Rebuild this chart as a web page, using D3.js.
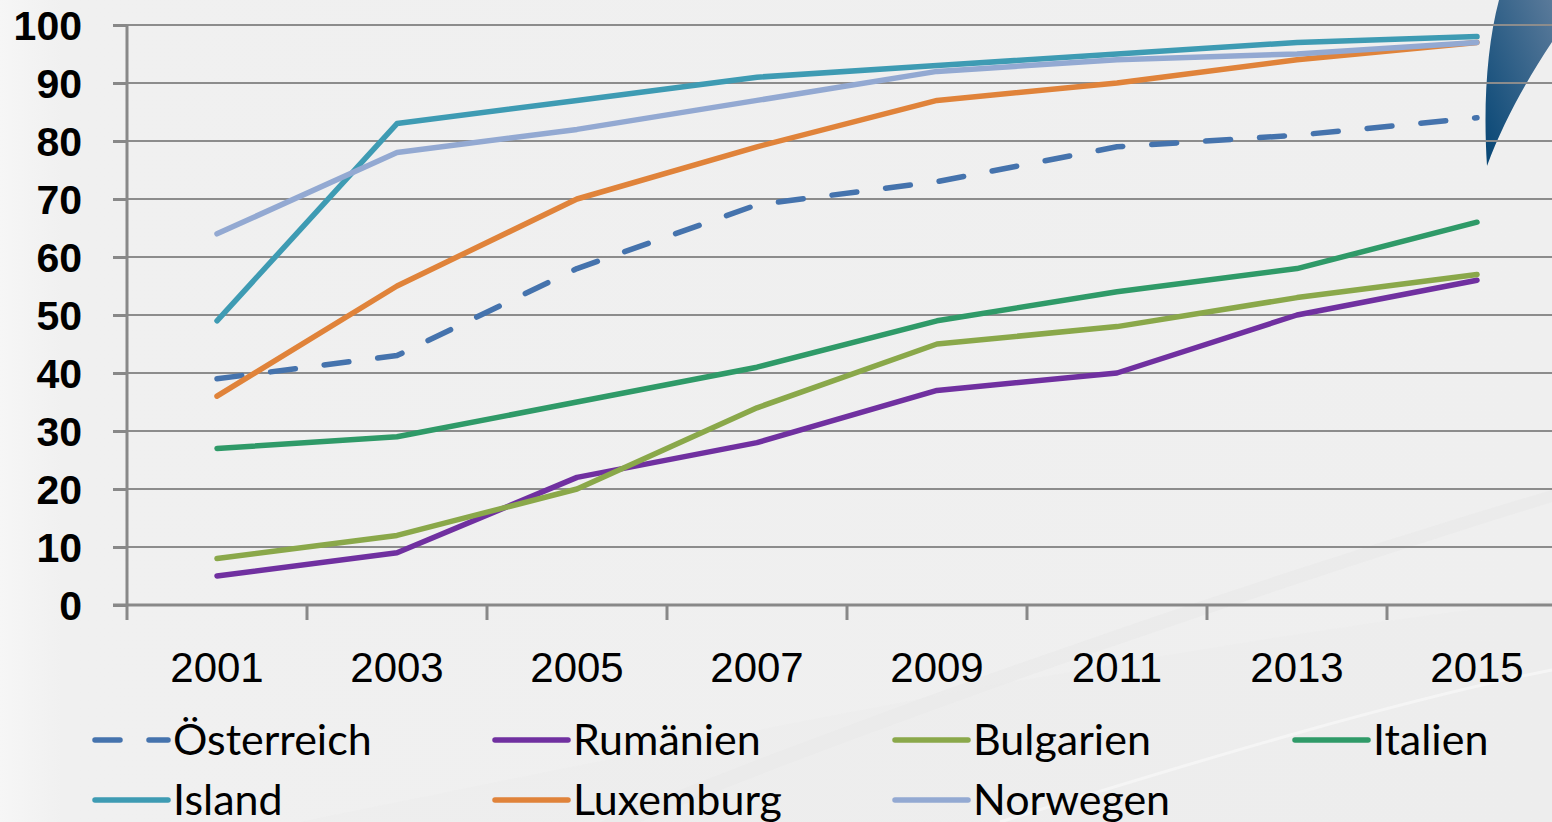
<!DOCTYPE html>
<html>
<head>
<meta charset="utf-8">
<script src="https://cdn.jsdelivr.net/npm/d3@7"></script>
<style>
  html, body { margin: 0; padding: 0; background: #f0f0f0; overflow: hidden; }
  svg { display: block; font-family: Lato, "Open Sans", sans-serif; }
</style>
</head>
<body>
<svg id="chart"></svg>
<script>
// chart data
var years = ["2001", "2003", "2005", "2007", "2009", "2011", "2013", "2015"];
var yTicks = [0, 10, 20, 30, 40, 50, 60, 70, 80, 90, 100];

var oesterreich = [39, 43, 58, 69, 73, 79, 81, 84];
var rumaenien   = [5, 9, 22, 28, 37, 40, 50, 56];
var bulgarien   = [8, 12, 20, 34, 45, 48, 53, 57];
var italien     = [27, 29, 35, 41, 49, 54, 58, 66];
var island      = [49, 83, 87, 91, 93, 95, 97, 98];
var luxemburg   = [36, 55, 70, 79, 87, 90, 94, 97];
var norwegen    = [64, 78, 82, 87, 92, 94, 95, 97];

var seriesNames = ["Österreich", "Rumänien", "Bulgarien", "Italien", "Island", "Luxemburg", "Norwegen"];
var seriesValues = [oesterreich, rumaenien, bulgarien, italien, island, luxemburg, norwegen];
var seriesColors = ["#4573ad", "#7030a0", "#8aa84a", "#2f9a68", "#3e9bb3", "#e0833a", "#93a9d2"];

var W = 1552, H = 822;
var svg = d3.select("#chart").attr("width", W).attr("height", H);

// background
var defs = svg.append("defs");
var bg = defs.append("linearGradient").attr("id", "bg").attr("x1", 0).attr("x2", 1).attr("y1", 0).attr("y2", 0);
bg.append("stop").attr("offset", 0).attr("stop-color", "#f6f6f6");
bg.append("stop").attr("offset", 0.04).attr("stop-color", "#f0f0f0");
bg.append("stop").attr("offset", 1).attr("stop-color", "#efefef");
svg.append("rect").attr("width", W).attr("height", H).attr("fill", "url(#bg)");

// faint swooshes lower right
svg.append("path")
   .attr("d", "M600,822 C900,700 1250,580 1552,490 L1552,502 C1250,596 900,716 640,822 Z")
   .attr("fill", "#e8e8e8").attr("opacity", 0.5);
svg.append("path")
   .attr("d", "M300,822 C800,720 1200,640 1552,600 L1552,822 Z")
   .attr("fill", "#eaeaea").attr("opacity", 0.4);
svg.append("path")
   .attr("d", "M1000,822 C1200,760 1400,700 1552,670")
   .attr("fill", "none").attr("stroke", "#f5f5f5").attr("stroke-width", 3);

// dark blue decoration top right
var deco = defs.append("linearGradient").attr("id", "deco").attr("x1", 0).attr("x2", 1).attr("y1", 1).attr("y2", 0);
deco.append("stop").attr("offset", 0).attr("stop-color", "#064675");
deco.append("stop").attr("offset", 1).attr("stop-color", "#5a7a9a");
svg.append("path")
   .attr("d", "M1499,0 C1487,45 1483,105 1487,166 C1503,122 1528,78 1552,42 L1552,0 Z")
   .attr("fill", "url(#deco)");

// scales
var x = d3.scaleBand().domain(years).range([127, 1567]);
var y = d3.scaleLinear().domain([0, 100]).range([605, 25]);

// gridlines
svg.append("g")
   .selectAll("line")
   .data(yTicks.filter(function(d) { return d > 0; }))
   .join("line")
   .attr("x1", 127).attr("x2", W)
   .attr("y1", function(d) { return y(d); })
   .attr("y2", function(d) { return y(d); })
   .style("stroke", "#8c8c8c")
   .style("stroke-width", "2px");

// y axis
var yAxis = svg.append("g")
   .attr("transform", "translate(127,0)")
   .call(d3.axisLeft(y).tickValues(yTicks).tickSize(14).tickPadding(31));
yAxis.selectAll("path, line").style("stroke", "#888").style("stroke-width", "3px");
yAxis.select(".domain").attr("d", "M0,605V25");
yAxis.selectAll("text")
   .style("font-size", "41px").style("font-weight", "bold").style("fill", "#000")
   .attr("dy", "0.36em");

// x axis with ticks between categories
var xAxis = svg.append("g")
   .attr("transform", "translate(0,605)")
   .call(d3.axisBottom(x).tickSize(0).tickPadding(0));
xAxis.select(".domain").attr("d", "M113,0H" + W).style("stroke", "#888").style("stroke-width", "3px");
xAxis.selectAll(".tick text")
   .attr("y", 77)
   .attr("dy", 0)
   .style("font-size", "42px").style("fill", "#000");
xAxis.selectAll("line.sep")
   .data(years)
   .join("line")
   .attr("class", "sep")
   .attr("x1", function(d) { return x(d); })
   .attr("x2", function(d) { return x(d); })
   .attr("y1", 0).attr("y2", 15)
   .style("stroke", "#888").style("stroke-width", "3px");

// lines
var line = d3.line()
   .x(function(d, i) { return x(years[i]) + x.bandwidth() / 2; })
   .y(function(d) { return y(d); });

svg.append("g")
   .selectAll("path")
   .data(seriesValues)
   .join("path")
   .attr("d", line)
   .style("fill", "none")
   .style("stroke", function(d, i) { return seriesColors[i]; })
   .style("stroke-width", "5.5px")
   .style("stroke-linecap", "round")
   .style("stroke-linejoin", "round")
   .style("stroke-dasharray", function(d, i) { return i === 0 ? "25,29" : null; });

// legend
var legend = svg.append("g")
   .selectAll("g")
   .data(seriesNames)
   .join("g")
   .attr("transform", function(d, i) {
     return "translate(" + (95 + (i % 4) * 400) + "," + (740 + Math.floor(i / 4) * 60) + ")";
   });

legend.append("line")
   .attr("x1", 0).attr("x2", 73).attr("y1", 0).attr("y2", 0)
   .style("stroke", function(d, i) { return seriesColors[i]; })
   .style("stroke-width", "5.5px")
   .style("stroke-linecap", "round")
   .style("stroke-dasharray", function(d, i) { return i === 0 ? "25,29" : null; });

legend.append("text")
   .attr("x", 78)
   .attr("y", 0)
   .attr("dy", "0.36em")
   .style("font-size", "43px")
   .style("fill", "#000")
   .text(function(d) { return d; });
</script>
</body>
</html>
